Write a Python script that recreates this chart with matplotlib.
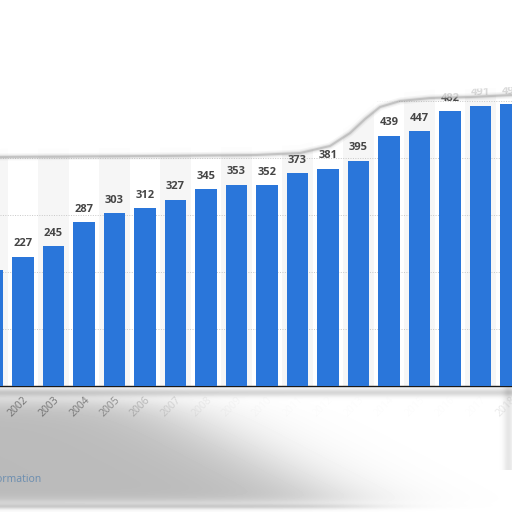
import numpy as np
import matplotlib
matplotlib.use("Agg")
import matplotlib.pyplot as plt

years = [str(y) for y in range(2001, 2019)]
values = [204, 227, 245, 287, 303, 312, 327, 345, 353, 352, 373, 381, 395, 439, 447, 482, 491, 494]
label_alpha = [0.0, 0.9, 0.9, 0.85, 0.7, 0.4, 0.22, 0.1, 0.05, 0.03, 0.02, 0.02, 0.02, 0.02, 0.02, 0.02, 0.02, 0.15]

W = H = 512
plt.rcParams['font.family'] = ['Open Sans', 'DejaVu Sans']
fig = plt.figure(figsize=(5.12, 5.12), dpi=100)

def fy(y):
    return 1 - y / H

base_px = 386
top_px = 88
ax = fig.add_axes([0, fy(base_px), 1, fy(top_px) - fy(base_px)])
ax.set_zorder(2)
idx = np.arange(len(values))
sp = 30.5
c0 = -7.5  # pixel center of first column

for i in idx:
    if i % 2 == 0:
        ax.axvspan(i - 0.5, i + 0.5, color='#f6f6f6', zorder=0, lw=0)
for g in [100, 200, 300, 400, 500]:
    ax.axhline(g, color='#c8c8c8', lw=0.7, ls=(0, (1, 1.5)), zorder=1)

ax.bar(idx, values, width=0.69, color='#2a76da', zorder=3)
for i, v in zip(idx, values):
    ax.annotate(str(v), (i, v), xytext=(0, 5.5), textcoords='offset points',
                ha='center', va='bottom', fontsize=8, fontweight='bold',
                color='#454545', zorder=4)

for s in ['top', 'left', 'right']:
    ax.spines[s].set_visible(False)
ax.spines['bottom'].set_color('#1a1a1a')
ax.spines['bottom'].set_linewidth(1.0)
ax.set_yticks([])
ax.set_xticks(idx)
ax.set_xticklabels(years, rotation=45, ha='right', rotation_mode='anchor',
                   fontsize=7.5, color='#6a6a6a')
ax.tick_params(axis='x', length=0, pad=6)
for t, a in zip(ax.get_xticklabels(), label_alpha):
    t.set_alpha(a)
ax.set_xlim((0 - c0) / sp, (W - c0) / sp)
ax.set_ylim(0, (base_px - top_px) / 0.57)

# bottom torn-paper background
bg = fig.add_axes([0, 0, 1, fy(base_px)])
bg.set_zorder(0)
Y, X = np.mgrid[base_px:H, 0:W].astype(float)
d1 = 0.16 * np.exp(-((Y - 392) / 4.0) ** 2)
xb = 150 + (Y - 400) * 1.9
s = 1 / (1 + np.exp((X - xb) / 40))
v = 1 / (1 + np.exp(-(Y - 398) / 6)) * 1 / (1 + np.exp(-(503 - Y) / 3))
d2 = 0.27 * s * v
sw = 1 / (1 + np.exp((X - 360) / 30))
d3 = 0.14 * np.exp(-((Y - 506) / 2.5) ** 2) * sw
d4 = 0.10 * np.exp(-((X - 508) / 5) ** 2) * (Y < 470)
img = np.clip(1 - (d1 + d2 + d3 + d4), 0, 1)
bg.imshow(img, cmap='gray', vmin=0, vmax=1, aspect='auto', extent=[0, W, H, base_px],
          interpolation='bilinear')
bg.set_xlim(0, W)
bg.set_ylim(H, base_px)
bg.axis('off')
fig.text(41 / W, fy(479), 'Additional Information', ha='right', va='center',
         fontsize=7.5, color='#6a8db0', zorder=3)

# top torn edge overlay
ov = fig.add_axes([0, 0, 1, 1])
ov.set_zorder(5)
ov.set_xlim(0, W)
ov.set_ylim(H, 0)
ov.axis('off')
ex = [0, 150, 256, 300, 330, 350, 365, 380, 400, 430, 470, 512]
ey = [157, 156, 155, 153, 146, 133, 119, 107, 101, 98, 97, 95]
px = np.concatenate([ex, [512, 0]])
py = np.concatenate([ey, [0, 0]])
ov.fill(px, py, color='white', alpha=0.8, lw=0)
ov.fill(list(ex) + [512, 0], (np.array(ey) - 8).tolist() + [0, 0], color='white', lw=0)
for lw, a in [(5, 0.08), (3, 0.15), (1.5, 0.35)]:
    ov.plot(ex, ey, color='#888888', lw=lw, alpha=a, solid_capstyle='butt')

fig.savefig('out.png', dpi=100)
